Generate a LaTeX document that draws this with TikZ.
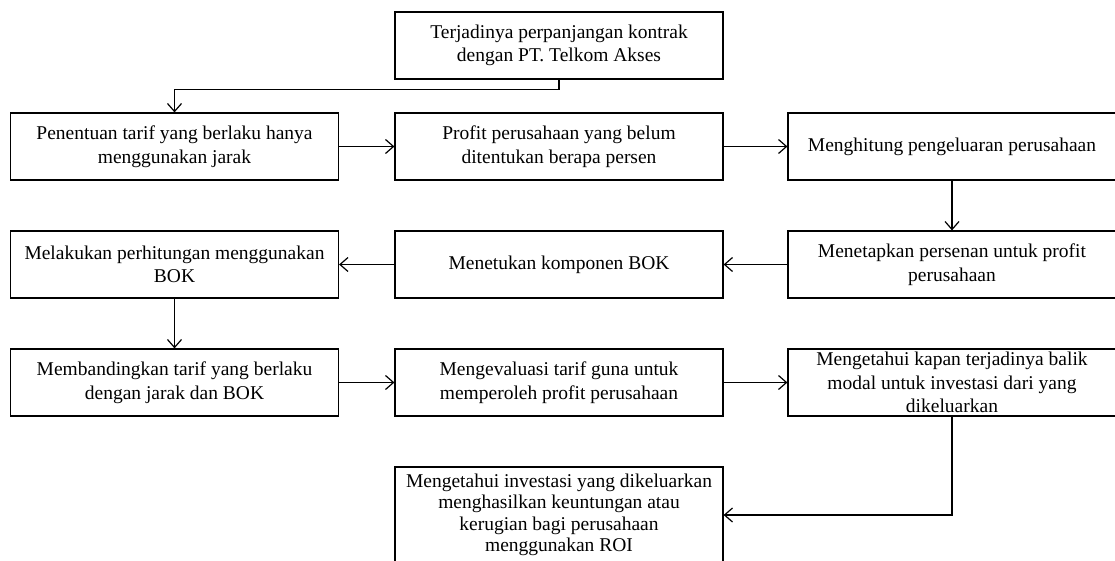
\documentclass[tikz,border=0pt]{standalone}
\usepackage{fontspec}
\setmainfont{Liberation Serif}
\usetikzlibrary{arrows.meta}

\begin{document}
\begin{tikzpicture}[x=1pt, y=-1pt, line width=1.2pt,
	line/.style={->, >={Straight Barb[length=8pt, width=14pt]}},
	box/.style={draw, minimum width=328pt, minimum height=67pt, inner sep=0pt,
		align=center, font=\fontsize{19.5}{23.5}\selectfont}]

	\useasboundingbox (0,0) rectangle (1115,561);

	\node[box] (kontrak) at (559, 45.5) {Terjadinya perpanjangan kontrak\\dengan PT. Telkom Akses};

	\node[box] (tarif) at (174.5, 146.5) {Penentuan tarif yang berlaku hanya\\menggunakan jarak};
	\node[box] (profit) at (559, 146.5) {Profit perusahaan yang belum\\ditentukan berapa persen};
	\node[box] (biaya) at (952, 146.5) {Menghitung pengeluaran perusahaan};

	\node[box] (hitung) at (174.5, 264.5) {Melakukan perhitungan menggunakan\\BOK};
	\node[box] (bok) at (559, 264.5) {Menetukan komponen BOK};
	\node[box] (persen) at (952, 264.5) {Menetapkan persenan untuk profit\\perusahaan};

	\node[box] (banding) at (174.5, 382.5) {Membandingkan tarif yang berlaku\\dengan jarak dan BOK};
	\node[box] (evaluasi) at (559, 382.5) {Mengevaluasi tarif guna untuk\\memperoleh profit perusahaan};
	\node[box] (balik) at (952, 382.5) {Mengetahui kapan terjadinya balik\\modal untuk investasi dari yang\\dikeluarkan};

	\node[box, minimum height=96pt, font=\fontsize{19.5}{21.5}\selectfont] (roi) at (559, 515)
		{Mengetahui investasi yang dikeluarkan\\menghasilkan keuntungan atau\\kerugian bagi perusahaan\\menggunakan ROI};

	\draw[line] (kontrak.south) -- ++(0,10) -| (tarif.north);
	\draw[line] (tarif) -- (profit);
	\draw[line] (profit) -- (biaya);
	\draw[line] (biaya) -- (persen);
	\draw[line] (persen) -- (bok);
	\draw[line] (bok) -- (hitung);
	\draw[line] (hitung) -- (banding);
	\draw[line] (banding) -- (evaluasi);
	\draw[line] (evaluasi) -- (balik);
	\draw[line] (balik.south) |- (roi.east);

\end{tikzpicture}
\end{document}
